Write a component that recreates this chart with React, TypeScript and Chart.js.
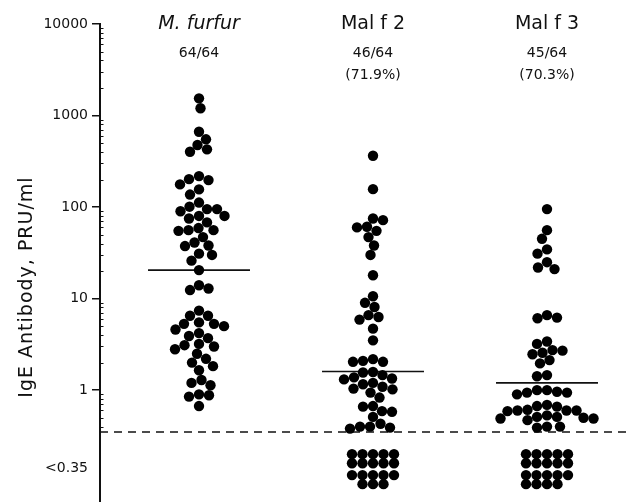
import { useEffect, useRef } from 'react';
import { Chart, registerables } from 'chart.js';

Chart.register(...registerables);

// ---- data ----
const groupNames = ['M. furfur', 'Mal f 2', 'Mal f 3'];
const groupItalic = [true, false, false];
const positiveCounts = ['64/64', '46/64', '45/64'];
const positivePercents = ['', '(71.9%)', '(70.3%)'];

const mFurfur = [1540, 1200, 665, 550, 476, 427, 402, 218, 202, 197, 177, 156, 137, 112, 101, 95, 95, 90,
  80, 80, 75, 68, 59, 56, 56, 55, 47, 41, 38, 37.5, 31, 30, 26, 20.5, 14, 12.9, 12.4,
  7.4, 6.5, 6.5, 5.5, 5.3, 5.3, 5.0, 4.6, 4.2, 3.9, 3.7, 3.2, 3.1, 3.0, 2.8, 2.5, 2.2, 2.0,
  1.83, 1.65, 1.29, 1.2, 1.13, 0.9, 0.88, 0.85, 0.67];
const malF2 = [364, 157, 75, 72, 61, 60, 55, 47, 38, 30, 18, 10.6, 9.0, 8.1, 6.6, 6.3, 5.9, 4.7, 3.5,
  2.18, 2.09, 2.04, 2.04, 1.58, 1.56, 1.46, 1.38, 1.34, 1.31, 1.2, 1.16, 1.09, 1.04, 1.02, 0.94, 0.83,
  0.67, 0.66, 0.59, 0.58, 0.51, 0.43, 0.40, 0.40, 0.39, 0.38];
const malF3 = [95, 56, 45, 34.5, 31, 25, 21.9, 21, 6.6, 6.2, 6.1, 3.4, 3.2, 2.74, 2.7, 2.56, 2.47, 2.13, 1.96,
  1.46, 1.42, 1.0, 1.0, 0.96, 0.94, 0.94, 0.90, 0.69, 0.67, 0.66, 0.61, 0.60, 0.60, 0.60, 0.59, 0.53,
  0.51, 0.51, 0.50, 0.49, 0.49, 0.47, 0.40, 0.40, 0.39];
const undetectableCounts = [0, 18, 19];
const medians = [20.5, 1.6, 1.2];
const cutoff = 0.35;

const yTickValues = [1, 10, 100, 1000, 10000];
const yTickLabels = ['1', '10', '100', '1000', '10000'];
const censoredLabel = '<0.35';
const yTitle = 'IgE Antibody, PRU/ml';

// ---- layout (not data) ----
const X_MIN = 0.431;
const X_MAX = 3.477;
const Y_MIN = 0.06;
const Y_MAX = 10000;
const CENSORED_LABEL_VALUE = 0.14;
const CENSORED_ROWS = [0.2, 0.159, 0.118, 0.094];
const CENSORED_COLS = 5;
const CENSORED_COL_PX = 10.5;
const MEDIAN_HALF = 0.293;
const DOT_R = 5.2;
const SWARM_D = 10;
const FONT = "'DejaVu Sans', 'Liberation Sans', sans-serif";

export default function App() {
  const ref = useRef<HTMLCanvasElement>(null);

  useEffect(() => {
    document.body.style.margin = '0';
    const canvas = ref.current!;
    const groups = [mFurfur, malF2, malF3];

    const swarmSets: any[] = groups.map((_, gi) => ({
      type: 'scatter',
      label: groupNames[gi],
      data: [] as any[],
      backgroundColor: '#000',
      borderColor: '#000',
      borderWidth: 0,
      pointRadius: DOT_R,
      pointHoverRadius: DOT_R,
    }));
    const censoredSets: any[] = groups.map((_, gi) => ({
      type: 'scatter',
      label: groupNames[gi] + ' <0.35',
      data: [] as any[],
      backgroundColor: '#000',
      borderColor: '#000',
      borderWidth: 0,
      pointRadius: DOT_R,
      pointHoverRadius: DOT_R,
    }));
    const medianSets: any[] = medians.map((m, gi) => ({
      type: 'line',
      label: 'median ' + groupNames[gi],
      data: [{ x: gi + 1 - MEDIAN_HALF, y: m }, { x: gi + 1 + MEDIAN_HALF, y: m }],
      borderColor: '#111',
      borderWidth: 1.6,
      pointRadius: 0,
      showLine: true,
    }));
    const cutoffSet: any = {
      type: 'line',
      label: 'cutoff',
      data: [{ x: X_MIN, y: cutoff }, { x: X_MAX, y: cutoff }],
      borderColor: '#111',
      borderWidth: 1.5,
      borderDash: [8, 6],
      pointRadius: 0,
      showLine: true,
    };

    const decorPlugin = {
      id: 'decor',
      afterDraw(chart: any) {
        const ctx = chart.ctx;
        const xs = chart.scales.x;
        const ys = chart.scales.y;
        const top = chart.chartArea.top;
        const left = chart.chartArea.left;
        ctx.save();
        // minor ticks
        ctx.strokeStyle = '#111';
        ctx.lineWidth = 1;
        const minors: number[] = [];
        for (let m = 4; m <= 9; m++) minors.push(m / 10);
        for (let k = 0; k < 4; k++) for (let m = 2; m <= 9; m++) minors.push(m * Math.pow(10, k));
        minors.forEach((v) => {
          const py = Math.round(ys.getPixelForValue(v)) + 0.5;
          ctx.beginPath();
          ctx.moveTo(left, py);
          ctx.lineTo(left + 3.5, py);
          ctx.stroke();
        });
        // headers
        ctx.fillStyle = '#111';
        ctx.textAlign = 'center';
        ctx.textBaseline = 'middle';
        groupNames.forEach((name, gi) => {
          const px = xs.getPixelForValue(gi + 1);
          ctx.font = (groupItalic[gi] ? 'italic ' : '') + '19px ' + FONT;
          ctx.fillText(name, px, top);
          ctx.font = '14px ' + FONT;
          ctx.fillText(positiveCounts[gi], px, top + 29);
          if (positivePercents[gi]) ctx.fillText(positivePercents[gi], px, top + 51);
        });
        // y title
        ctx.translate(27, 287);
        ctx.rotate(-Math.PI / 2);
        ctx.font = '19px ' + FONT;
        try { (ctx as any).letterSpacing = '1px'; } catch (e) { /* ignore */ }
        ctx.fillText(yTitle, 0, 0);
        try { (ctx as any).letterSpacing = '0px'; } catch (e) { /* ignore */ }
        ctx.restore();
      },
    };

    const chart = new Chart(canvas, {
      type: 'scatter',
      data: { datasets: [...swarmSets, ...censoredSets, ...medianSets, cutoffSet] },
      options: {
        responsive: false,
        animation: false,
        devicePixelRatio: 1,
        layout: { autoPadding: false, padding: { top: 24, right: 0, bottom: 0, left: 0 } },
        plugins: { legend: { display: false }, tooltip: { enabled: false }, title: { display: false } },
        scales: {
          x: { type: 'linear', min: X_MIN, max: X_MAX, display: false },
          y: {
            type: 'logarithmic',
            min: Y_MIN,
            max: Y_MAX,
            position: 'left',
            afterFit: (s: any) => {
              s.width = 100;
              s.paddingTop = 0;
              s.paddingBottom = 0;
            },
            afterBuildTicks: (s: any) => {
              s.ticks = [CENSORED_LABEL_VALUE, ...yTickValues].map((v) => ({ value: v }));
            },
            ticks: {
              autoSkip: false,
              maxRotation: 0,
              padding: 4,
              color: '#111',
              font: { family: FONT, size: 14 },
              callback: (v: any) => {
                if (v === CENSORED_LABEL_VALUE) return censoredLabel;
                const i = yTickValues.indexOf(v);
                return i >= 0 ? yTickLabels[i] : '';
              },
            },
            grid: {
              drawOnChartArea: false,
              drawTicks: true,
              tickLength: 8,
              lineWidth: 1.5,
              tickColor: (c: any) => (c.tick && c.tick.value === CENSORED_LABEL_VALUE ? 'rgba(0,0,0,0)' : '#111'),
            },
            border: { display: true, color: '#111', width: 2 },
          },
        },
      } as any,
      plugins: [decorPlugin],
    });

    // beeswarm placement using the chart's own scales
    const xs: any = chart.scales.x;
    const ys: any = chart.scales.y;
    const ppu = xs.getPixelForValue(1) - xs.getPixelForValue(0);
    groups.forEach((vals, gi) => {
      const sorted = [...vals].sort((a, b) => b - a);
      const placed: { dx: number; py: number }[] = [];
      const pts: any[] = [];
      sorted.forEach((v, i) => {
        const py = ys.getPixelForValue(v);
        let chosen = 0;
        for (let k = 0; k < 300; k++) {
          const mag = k * 0.5;
          const cands = k === 0 ? [0] : i % 2 ? [mag, -mag] : [-mag, mag];
          let found: number | null = null;
          for (const dx of cands) {
            if (placed.every((p) => (p.dx - dx) ** 2 + (p.py - py) ** 2 >= SWARM_D * SWARM_D)) {
              found = dx;
              break;
            }
          }
          if (found !== null) { chosen = found; break; }
        }
        placed.push({ dx: chosen, py });
        pts.push({ x: gi + 1 + chosen / ppu, y: v });
      });
      swarmSets[gi].data = pts;

      const n = undetectableCounts[gi];
      const cpts: any[] = [];
      for (let idx = 0; idx < n; idx++) {
        const r = Math.floor(idx / CENSORED_COLS);
        const inRow = Math.min(CENSORED_COLS, n - r * CENSORED_COLS);
        const start = Math.floor((CENSORED_COLS - inRow) / 2);
        const c = start + (idx % CENSORED_COLS);
        cpts.push({ x: gi + 1 + ((c - (CENSORED_COLS - 1) / 2) * CENSORED_COL_PX) / ppu, y: CENSORED_ROWS[r] });
      }
      censoredSets[gi].data = cpts;
    });
    chart.update('none');

    return () => chart.destroy();
  }, []);

  return (
    <div style={{ width: 630, height: 502, background: '#fff' }}>
      <canvas ref={ref} width={630} height={502} style={{ display: 'block' }} />
    </div>
  );
}
